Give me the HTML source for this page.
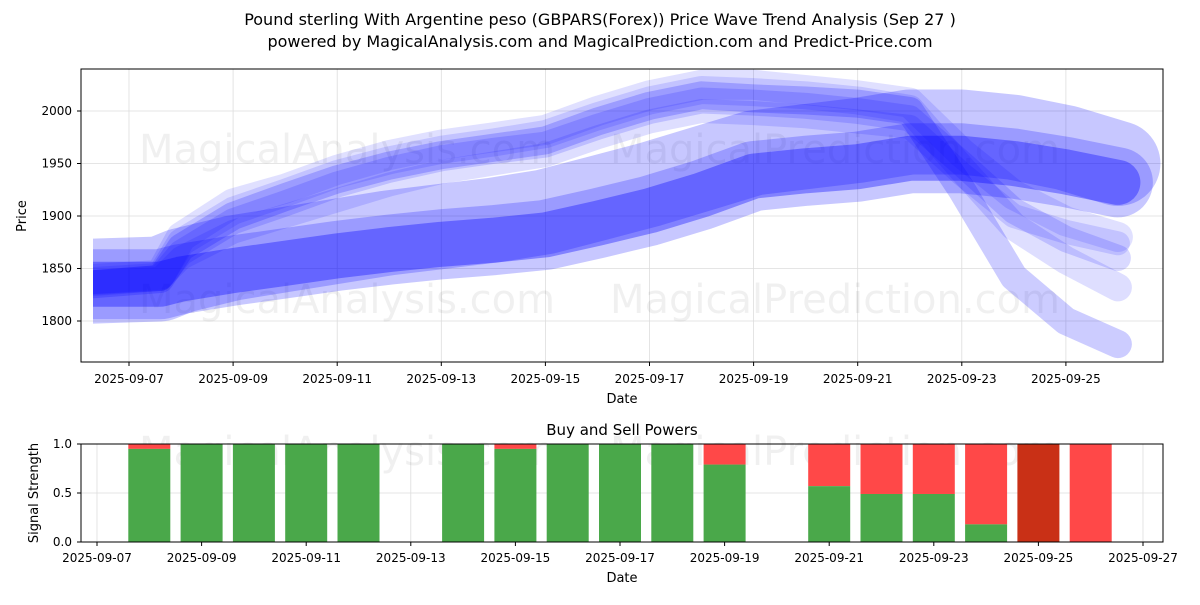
<!DOCTYPE html>
<html><head><meta charset="utf-8"><style>
body{margin:0;background:#fff;font-family:"Liberation Sans","DejaVu Sans",sans-serif}
svg text{font-family:"DejaVu Sans","Liberation Sans",sans-serif}
</style></head><body>
<svg id="c" width="1200" height="600" viewBox="0 0 1200 600" xmlns="http://www.w3.org/2000/svg">
<text x="600" y="25" text-anchor="middle" font-size="16">Pound sterling With Argentine peso (GBPARS(Forex)) Price Wave Trend Analysis (Sep 27 )</text>
<text x="600" y="47" text-anchor="middle" font-size="16">powered by MagicalAnalysis.com and MagicalPrediction.com and Predict-Price.com</text>
<defs><clipPath id="pc"><rect x="93" y="69" width="1070" height="293"/></clipPath></defs>
<g id="topg"></g>
<g id="botg"></g>
</svg>
<script>
const days=[6.3,7.6,8,9,10,11,12,13,14,15,16,17,18,19,20,21,22,23,24,25,26];
const mainS=[1835,1835,1840,1848,1855,1862,1868,1873,1877,1882,1893,1905,1920,1938,1943,1947,1955,1955,1950,1942,1932];
const outerS=[1838,1840,1848,1860,1868,1876,1884,1890,1896,1904,1917,1930,1945,1960,1966,1972,1980,1980,1975,1965,1950];
const up1=[1835,1840,1870,1900,1918,1935,1948,1958,1965,1972,1990,2005,2015,2012,2010,2007,2000,1925,1842,1800,1778];
const up2=[1838,1842,1875,1905,1922,1940,1953,1963,1970,1978,1995,2010,2020,2018,2015,2010,2002,1945,1890,1858,1832];
const up3=[1836,1841,1865,1895,1912,1930,1944,1955,1962,1968,1985,2000,2010,2008,2005,2000,1993,1950,1905,1878,1860];
const up4=[1840,1844,1880,1912,1926,1944,1958,1968,1975,1982,2000,2015,2025,2025,2020,2015,2008,1960,1920,1895,1880];
const up5=[1837,1840,1860,1885,1900,1915,1930,1942,1950,1958,1975,1990,2000,1998,1995,1990,1985,1940,1900,1885,1874];
const yTicks=[1800,1850,1900,1950,2000];
const xTickDays=[7,9,11,13,15,17,19,21,23,25];
const barDays=[8,9,10,11,12,14,15,16,17,18,19,21,22,23,24,25,26];
const buyVals=[0.95,1,1,1,1,1,0.95,1,1,1,0.79,0.57,0.49,0.49,0.18,0,0];
const sellColors=["r","r","r","r","r","r","r","r","r","r","r","r","r","r","r","d","r"];
const botTicks=[7,9,11,13,15,17,19,21,23,25,27];
const NS="http://www.w3.org/2000/svg";
function mk(t,a,p){const e=document.createElementNS(NS,t);for(const k in a)e.setAttribute(k,a[k]);p.appendChild(e);return e;}
const gTop=document.getElementById('topg'),gBot=document.getElementById('botg');
const X=d=>129+(d-7)*52.05, Y=v=>216-(v-1900)*1.05;
const BX=d=>97+(d-7)*52.3, BY=v=>542-v*98;
for(const t of yTicks){const g=mk('line',{x1:81,x2:1163,y1:Y(t),y2:Y(t),stroke:'#ddd','stroke-width':0.8},gTop);


const l=mk('text',{x:72,y:Y(t)+4,'text-anchor':'end','font-size':12},gTop);l.textContent=t;


mk('line',{x1:77,x2:81,y1:Y(t),y2:Y(t),stroke:'#000'},gTop);}
for(const d of xTickDays){mk('line',{x1:X(d),x2:X(d),y1:69,y2:362,stroke:'#ddd','stroke-width':0.8},gTop);
mk('line',{x1:X(d),x2:X(d),y1:362,y2:366,stroke:'#000'},gTop);
const l=mk('text',{x:X(d),y:383,'text-anchor':'middle','font-size':12},gTop);l.textContent='2025-09-'+String(d).padStart(2,'0');

}
[[347,163,'MagicalAnalysis.com'],[835,163,'MagicalPrediction.com'],[347,313,'MagicalAnalysis.com'],[835,313,'MagicalPrediction.com']].forEach(w=>{
const t=mk('text',{x:w[0],y:w[1],'text-anchor':'middle','font-size':40,fill:'#000','fill-opacity':0.06},gTop);t.textContent=w[2];

});
const waves=mk('g',{'clip-path':'url(#pc)'},gTop);
function band(arr,w,op,name){const d=arr.map((v,i)=>(i?'L':'M')+X(days[i]).toFixed(1)+','+Y(v).toFixed(1)).join(' ');
const p=mk('path',{d:d,fill:'none',stroke:'#0000ff','stroke-opacity':op,'stroke-width':w,'stroke-linejoin':'round','stroke-linecap':'round'},waves);

}
band(up4,30,0.12,'wave-upper-4');band(up2,28,0.13,'wave-upper-2');band(up5,24,0.13,'wave-upper-5');
band(up3,26,0.15,'wave-upper-3');band(up1,28,0.2,'wave-upper-1');
band(outerS,85,0.22,'wave-outer');band(mainS,70,0.22,'wave-main-wide');band(mainS,45,0.35,'wave-main');
mk('rect',{x:81,y:69,width:1082,height:293,fill:'none',stroke:'#000'},gTop);
const yl=mk('text',{x:26,y:216,'text-anchor':'middle','font-size':13,transform:'rotate(-90 26 216)'},gTop);yl.textContent='Price';


const xl=mk('text',{x:622,y:403,'text-anchor':'middle','font-size':13},gTop);xl.textContent='Date';


const bt=mk('text',{x:622,y:435,'text-anchor':'middle','font-size':15},gBot);bt.textContent='Buy and Sell Powers';


for(const t of [0,0.5,1]){mk('line',{x1:81,x2:1163,y1:BY(t),y2:BY(t),stroke:'#ddd','stroke-width':0.8},gBot);mk('line',{x1:77,x2:81,y1:BY(t),y2:BY(t),stroke:'#000'},gBot);
const l=mk('text',{x:72,y:BY(t)+4,'text-anchor':'end','font-size':12},gBot);l.textContent=t.toFixed(1);

}
for(const d of botTicks){mk('line',{x1:BX(d),x2:BX(d),y1:444,y2:542,stroke:'#ddd','stroke-width':0.8},gBot);mk('line',{x1:BX(d),x2:BX(d),y1:542,y2:546,stroke:'#000'},gBot);
const l=mk('text',{x:BX(d),y:562,'text-anchor':'middle','font-size':12},gBot);l.textContent='2025-09-'+String(d).padStart(2,'0');

}
[[347,465,'MagicalAnalysis.com'],[835,465,'MagicalPrediction.com']].forEach(w=>{
const t=mk('text',{x:w[0],y:w[1],'text-anchor':'middle','font-size':40,fill:'#000','fill-opacity':0.06},gBot);t.textContent=w[2];

});
barDays.forEach((d,i)=>{const b=buyVals[i],cx=BX(d);
if(b<1){const r=mk('rect',{x:cx-21,y:BY(1),width:42,height:BY(b)-BY(1),fill:sellColors[i]==='d'?'#c93016':'#ff4848'},gBot);

}
if(b>0){const g=mk('rect',{x:cx-21,y:BY(b),width:42,height:BY(0)-BY(b),fill:'#4aa84a'},gBot);

}});
mk('rect',{x:81,y:444,width:1082,height:98,fill:'none',stroke:'#000'},gBot);
const yl2=mk('text',{x:38,y:493,'text-anchor':'middle','font-size':13,transform:'rotate(-90 38 493)'},gBot);yl2.textContent='Signal Strength';


const xl2=mk('text',{x:622,y:582,'text-anchor':'middle','font-size':13},gBot);xl2.textContent='Date';


</script>
</body></html>
